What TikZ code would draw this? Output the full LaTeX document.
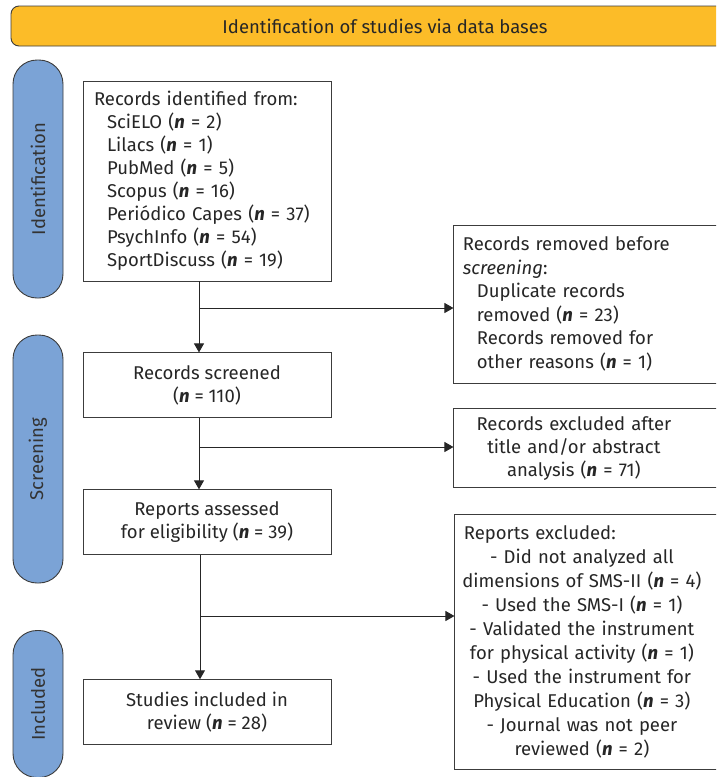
\documentclass[tikz,border=0pt]{standalone}
\usepackage{fontspec}
\setmainfont{Fira Sans}
\usetikzlibrary{arrows.meta,positioning}
\definecolor{headeryellow}{RGB}{252,188,40}
\definecolor{stageblue}{RGB}{123,163,214}
\definecolor{linegray}{RGB}{60,60,60}
\newcommand{\ncount}{\textbf{\textit{n}}}

\begin{document}
\begin{tikzpicture}[
  x=1pt, y=-1pt,
  font=\fontsize{18.5}{23}\selectfont,
  header/.style={draw=linegray, rounded corners=8pt, fill=headeryellow, line width=0.9pt, minimum width=748pt, minimum height=40pt, text=black!85},
  stage/.style={draw=linegray, rounded corners=24pt, fill=stageblue, line width=0.9pt, rotate=90, minimum height=50pt, text=black!80},
  mainbox/.style={draw=linegray, line width=0.9pt, fill=white, minimum width=248pt, minimum height=65pt, align=center, text=black!85},
  sidebox/.style={draw=linegray, line width=0.9pt, fill=white, text width=272pt, inner xsep=9pt, align=left, text=black!85},
  line/.style={-{Triangle[length=9pt,width=10pt]}, line width=1pt, draw=black!85}
]
\useasboundingbox (0,0) rectangle (716,777);
\clip (0,0) rectangle (716,777);

\node[header] (title) at (385,26) {Identification of studies via data bases};

\node[stage, minimum width=238pt] (idstage) at (38,179) {Identification};
\node[stage, minimum width=248pt] (scstage) at (38,459) {Screening};
\node[stage, minimum width=147pt] (instage) at (38,704) {Included};

\node[mainbox, minimum height=200pt, text width=226pt, inner xsep=11pt, align=left] (ident) at (207,181) {Records identified from:\\
  \hspace*{13pt}SciELO (\ncount{} = 2)\\
  \hspace*{13pt}Lilacs (\ncount{} = 1)\\
  \hspace*{13pt}PubMed (\ncount{} = 5)\\
  \hspace*{13pt}Scopus (\ncount{} = 16)\\
  \hspace*{13pt}Periódico Capes (\ncount{} = 37)\\
  \hspace*{13pt}PsychInfo (\ncount{} = 54)\\
  \hspace*{13pt}SportDiscuss (\ncount{} = 19)};
\node[mainbox, below=71pt of ident] (screened) {Records screened\\(\ncount{} = 110)};
\node[mainbox, below=71pt of screened] (assessed) {Reports assessed\\for eligibility (\ncount{} = 39)};
\node[mainbox, below=124pt of assessed] (studies) {Studies included in\\review (\ncount{} = 28)};

\node[sidebox, minimum height=158pt, font=\fontsize{18.5}{23.5}\selectfont, below right=144pt and 122pt of ident.north east] (removed) {Records removed before\\
  \textit{screening}:\\
  \hspace*{14pt}Duplicate records\\
  \hspace*{14pt}removed (\ncount{} = 23)\\
  \hspace*{14pt}Records removed for\\
  \hspace*{14pt}other reasons (\ncount{} = 1)};
\node[sidebox, minimum height=79pt, below right=56pt and 122pt of screened.north east] (excluded) {\parbox{222pt}{\centering Records excluded after\\title and/or abstract\\analysis (\ncount{} = 71)}};
\node[sidebox, minimum height=255pt, font=\fontsize{18.5}{24}\selectfont, below right=25pt and 123pt of assessed.north east] (notincl) {Reports excluded:\\
  \hspace*{-7pt}\parbox[t]{250pt}{\centering - Did not analyzed all\\
  dimensions of SMS-II (\ncount{} = 4)\\
  - Used the SMS-I (\ncount{} = 1)\\
  - Validated the instrument\\
  for physical activity (\ncount{} = 1)\\
  - Used the instrument for\\
  Physical Education (\ncount{} = 3)\\
  - Journal was not peer\\
  reviewed (\ncount{} = 2)}};

\coordinate (split1) at (199,308);
\coordinate (split2) at (199,447);
\coordinate (split3) at (200,616);

\draw[line] (ident.south -| split1) -- (screened.north -| split1);
\draw[line] (screened.south -| split2) -- (assessed.north -| split2);
\draw[line] (assessed.south -| split3) -- (studies.north -| split3);
\draw[line] (split1) -- (split1 -| removed.west);
\draw[line] (split2) -- (split2 -| excluded.west);
\draw[line] (split3) -- (split3 -| notincl.west);

\end{tikzpicture}
\end{document}
